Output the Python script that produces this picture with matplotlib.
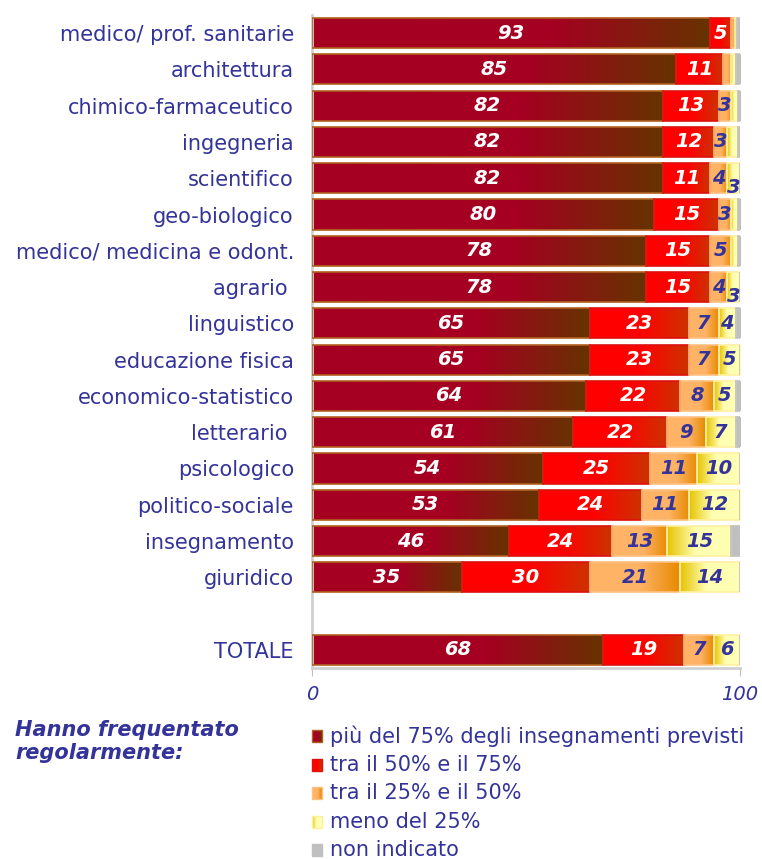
import numpy as np
import matplotlib
matplotlib.use("Agg")
import matplotlib.pyplot as plt
from matplotlib.colors import LinearSegmentedColormap
from matplotlib.patches import Rectangle

# frequenza alle lezioni per gruppo disciplinare (%)
groups = ["medico/ prof. sanitarie", "architettura", "chimico-farmaceutico",
          "ingegneria", "scientifico", "geo-biologico",
          "medico/ medicina e odont.", "agrario ", "linguistico",
          "educazione fisica", "economico-statistico", "letterario ",
          "psicologico", "politico-sociale", "insegnamento", "giuridico",
          "TOTALE"]
over75 = [93, 85, 82, 82, 82, 80, 78, 78, 65, 65, 64, 61, 54, 53, 46, 35, 68]
from50to75 = [5, 11, 13, 12, 11, 15, 15, 15, 23, 23, 22, 22, 25, 24, 24, 30, 19]
from25to50 = [0.8, 2, 3, 3, 4, 3, 5, 4, 7, 7, 8, 9, 11, 11, 13, 21, 7]
under25 = [0.6, 1, 1.5, 2.6, 3, 1.5, 1.5, 3, 4, 5, 5, 7, 10, 12, 15, 14, 6]
missing = [0.6, 1, 0.5, 0.4, 0, 0.5, 0.5, 0, 1, 0, 1, 1, 0, 0, 2, 0, 0]

series = [over75, from50to75, from25to50, under25, missing]
legend_labels = ["più del 75% degli insegnamenti previsti",
                 "tra il 50% e il 75%", "tra il 25% e il 50%",
                 "meno del 25%", "non indicato"]

# positions: one empty row before TOTALE
ypos = list(range(16)) + [17]

blue = "#333399"
# (colour stops along the segment), edge colour, label colour
styles = [
    ([(0, "#A50021"), (0.6, "#A50021"), (1, "#663300")], "#B06020", "white"),
    ([(0, "#FF0000"), (0.5, "#FF0000"), (1, "#CC3300")], "#DD1010", "white"),
    ([(0, "#FFB366"), (0.55, "#FFB366"), (1, "#E68A00")], "#FFC080", blue),
    ([(0, "#E6C300"), (0.45, "#FFFFB3"), (1, "#FFFFB3")], "#FFF0A0", blue),
    ([(0, "#C0C0C0"), (1, "#C0C0C0")], "#C0C0C0", blue),
]
cmaps = [LinearSegmentedColormap.from_list("s%d" % i, st[0]) for i, st in enumerate(styles)]
grad = np.linspace(0, 1, 256).reshape(1, -1)

fig = plt.figure(figsize=(7.62, 8.59), dpi=100)
ax = fig.add_axes([312 / 762, 1 - 668 / 859, 428 / 762, 653 / 859])

left = np.zeros(len(groups))
for k, vals in enumerate(series):
    vals = np.array(vals, dtype=float)
    bars = ax.barh(ypos, vals, left=left, height=0.83, facecolor="none",
                   edgecolor=styles[k][1], linewidth=1.2, zorder=3)
    for i, b in enumerate(bars):
        v = vals[i]
        if v <= 0:
            continue
        x0, y0 = b.get_x(), b.get_y()
        im = ax.imshow(grad, cmap=cmaps[k], aspect="auto", zorder=2,
                       extent=(x0, x0 + v, y0 + b.get_height(), y0),
                       interpolation="bilinear")
        im.set_clip_path(b)
        if k < 4 and v >= 3:
            # narrow yellow label next to a labelled orange one sits lower
            dy = 0.25 if (k == 3 and v == 3 and from25to50[i] == 4) else 0
            ax.text(x0 + v / 2, ypos[i] + dy, "%d" % v,
                    ha="center", va="center", color=styles[k][2],
                    fontsize=14, fontweight="bold", fontstyle="italic", zorder=4)
    left += vals

ax.set_xlim(0, 100)
ax.set_ylim(17.5, -0.5)
ax.set_yticks(ypos)
ax.set_yticklabels(groups, fontsize=15, color=blue)
ax.tick_params(axis="y", length=0, pad=13)
ax.set_xticks([0, 100])
ax.set_xticklabels(["0", "100"], fontsize=14, color=blue, fontstyle="italic")
ax.tick_params(axis="x", length=6, color="#C0C0C0", pad=6)
for s in ["top", "right"]:
    ax.spines[s].set_visible(False)
ax.spines["left"].set_color("#D0D0D0")
ax.spines["left"].set_linewidth(2)
ax.spines["bottom"].set_color("#D0D0D0")
ax.spines["bottom"].set_linewidth(2)

# legend
fig.text(15 / 762, 1 - 720 / 859, "Hanno frequentato\nregolarmente:", ha="left", va="top",
         fontsize=15, fontweight="bold", fontstyle="italic", color=blue, linespacing=1.2)
for i, lab in enumerate(legend_labels):
    yc = 736 + i * 28.6
    sq = Rectangle((312 / 762, 1 - (yc + 6) / 859), 10 / 762, 12 / 859,
                   transform=fig.transFigure, facecolor="none",
                   edgecolor=styles[i][1], linewidth=1)
    fig.patches.append(sq)
    lax = fig.add_axes([312 / 762, 1 - (yc + 6) / 859, 10 / 762, 12 / 859])
    lax.imshow(grad, cmap=cmaps[i], aspect="auto", interpolation="bilinear")
    lax.axis("off")
    fig.text(330 / 762, 1 - yc / 859, lab, ha="left", va="center",
             fontsize=15, color=blue)

fig.savefig("out.png", dpi=100)
